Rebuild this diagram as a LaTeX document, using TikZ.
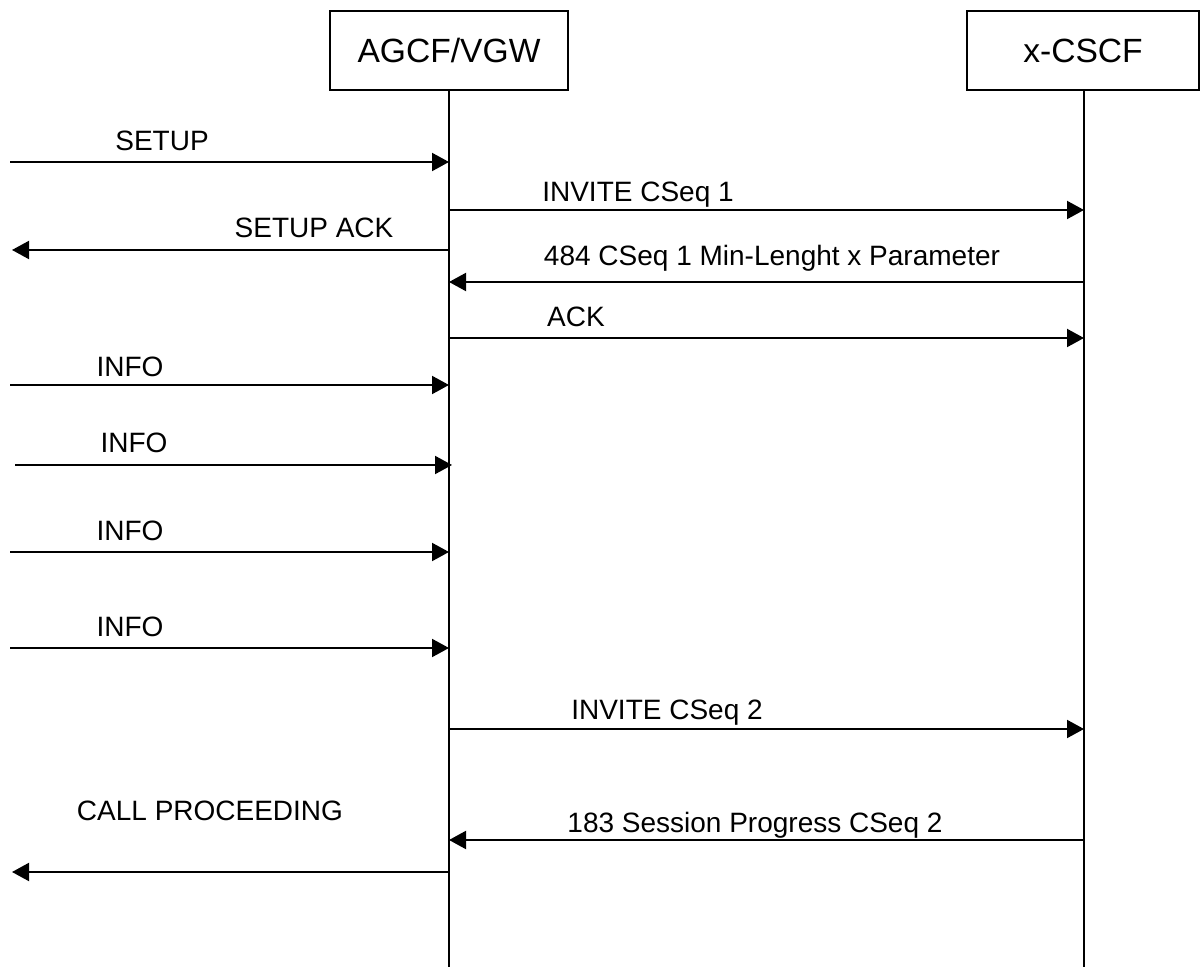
\documentclass[tikz,border=0pt]{standalone}
\usepackage{fontspec}
\setmainfont{Liberation Sans}
\usetikzlibrary{arrows.meta}
\begin{document}
\begin{tikzpicture}[x=0.5pt,y=-0.5pt,
  entity/.style={draw,line width=1pt,minimum height=39.5pt,inner sep=0pt,font=\fontsize{16.8}{20}\selectfont},
  life/.style={line width=1pt},
  msg/.style={line width=1pt,-{Triangle[length=8.5pt,width=9pt]}},
  lbl/.style={inner sep=0pt,anchor=base,font=\fontsize{14}{16}\selectfont}]
\useasboundingbox (0,0) rectangle (1200,967);
% entities
\node[entity,minimum width=119pt] (A) at (449,50.5) {AGCF/VGW};
\node[entity,minimum width=116pt] (X) at (1083,50.5) {x-CSCF};
\coordinate (Aend) at (449,967);
\coordinate (Xend) at (1084,967);
\draw[life] (A.south) -- (Aend);
\draw[life] (1084,90) -- (Xend);
% end points on lifelines
\foreach \n/\y in {1/162,2/210,3/250,4/282,5/338,6/385,7/465,8/552,9/648,10/729,11/840,12/872}{
  \coordinate (a\n) at (449,\y);
  \coordinate (x\n) at (1084,\y);
}
\coordinate (a7) at (452,465);
\coordinate (l1) at (10,162);
\coordinate (l3) at (12,250);
\coordinate (l6) at (10,385);
\coordinate (l7) at (15,465);
\coordinate (l8) at (10,552);
\coordinate (l9) at (10,648);
\coordinate (l12) at (12,872);
% messages
\draw[msg] (l1) -- (a1);
\draw[msg] (a2) -- (x2);
\draw[msg] (a3) -- (l3);
\draw[msg] (x4) -- (a4);
\draw[msg] (a5) -- (x5);
\draw[msg] (l6) -- (a6);
\draw[msg] (l7) -- (a7);
\draw[msg] (l8) -- (a8);
\draw[msg] (l9) -- (a9);
\draw[msg] (a10) -- (x10);
\draw[msg] (x11) -- (a11);
\draw[msg] (a12) -- (l12);
% labels
\node[lbl] (t1) at (162,151) {SETUP};
\node[lbl] (t2) at (638,201.5) {INVITE CSeq 1};
\node[lbl] (t3) at (314,238) {SETUP ACK};
\node[lbl] (t4) at (772,266) {484 CSeq 1 Min-Lenght x Parameter};
\node[lbl] (t5) at (576,326.5) {ACK};
\node[lbl] (t6) at (130,376.5) {INFO};
\node[lbl] (t7) at (134,453) {INFO};
\node[lbl] (t8) at (130,540.5) {INFO};
\node[lbl] (t9) at (130,636.5) {INFO};
\node[lbl] (t10) at (667,719.5) {INVITE CSeq 2};
\node[lbl] (t11) at (755,832.5) {183 Session Progress CSeq 2};
\node[lbl] (t12) at (210,820) {CALL PROCEEDING};
\end{tikzpicture}
\end{document}
